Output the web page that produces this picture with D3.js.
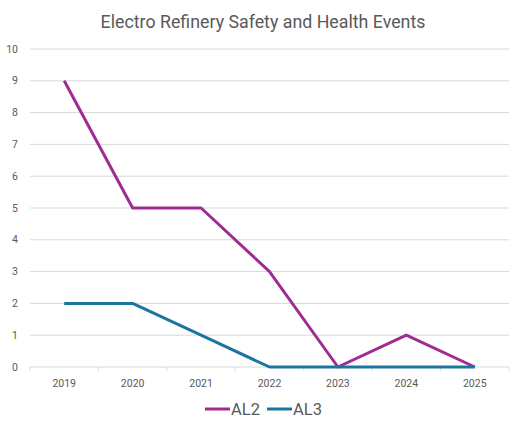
<!DOCTYPE html>
<html>
<head>
<meta charset="utf-8">
<script src="https://cdn.jsdelivr.net/npm/d3@7"></script>
<style>
  body { margin: 0; background: #fff; }
  text { font-family: Roboto, "Liberation Sans", sans-serif; }
</style>
</head>
<body>
<div id="chart"></div>
<script>
const years = ['2019', '2020', '2021', '2022', '2023', '2024', '2025'];
const al2 = [9, 5, 5, 3, 0, 1, 0];
const al3 = [2, 2, 1, 0, 0, 0, 0];
const yTicks = [0, 1, 2, 3, 4, 5, 6, 7, 8, 9, 10];

const series = [
    {name: 'AL2', values: al2, color: '#A02B93'},
    {name: 'AL3', values: al3, color: '#1A76A0'}
];

const W = 526, H = 432;
const margin = {top: 49, right: 17, bottom: 65, left: 30};
const width = W - margin.left - margin.right,
      height = H - margin.top - margin.bottom;

const svg = d3.select('#chart').append('svg')
      .attr('width', W)
      .attr('height', H);

svg.append('text')
    .attr('x', W / 2)
    .attr('y', 28)
    .attr('text-anchor', 'middle')
    .attr('font-size', 17.8)
    .attr('fill', '#595959')
    .text('Electro Refinery Safety and Health Events');

const g = svg.append('g')
      .attr('transform', 'translate(' + margin.left + ',' + margin.top + ')');

const x = d3.scaleBand().domain(years).range([0, width]);
const y = d3.scaleLinear().domain([0, 10]).range([height, 0]);

// gridlines
g.selectAll('.grid').data(yTicks).enter()
    .append('line')
    .attr('class', 'grid')
    .attr('x1', 0)
    .attr('x2', width)
    .attr('y1', d => y(d))
    .attr('y2', d => y(d))
    .attr('stroke', '#d9d9d9')
    .attr('stroke-width', 1);

// y labels
g.selectAll('.ylab').data(yTicks).enter()
    .append('text')
    .attr('class', 'ylab')
    .attr('x', -12)
    .attr('y', d => y(d))
    .attr('dy', '0.35em')
    .attr('text-anchor', 'end')
    .attr('font-size', 10.5)
    .attr('fill', '#595959')
    .text(d => d);

// x axis ticks at band edges
const edges = years.map(d => x(d)).concat([width]);
g.selectAll('.xtick').data(edges).enter()
    .append('line')
    .attr('x1', d => d)
    .attr('x2', d => d)
    .attr('y1', height)
    .attr('y2', height + 4)
    .attr('stroke', '#d9d9d9');

g.selectAll('.xlab').data(years).enter()
    .append('text')
    .attr('x', d => x(d) + x.bandwidth() / 2)
    .attr('y', height + 20)
    .attr('text-anchor', 'middle')
    .attr('font-size', 10.5)
    .attr('fill', '#595959')
    .text(d => d);

const line = d3.line()
      .x((d, i) => x(years[i]) + x.bandwidth() / 2)
      .y(d => y(d));

series.forEach(s => {
    g.append('path')
        .datum(s.values)
        .attr('fill', 'none')
        .attr('stroke', s.color)
        .attr('stroke-width', 3)
        .attr('stroke-linejoin', 'round')
        .attr('d', line);
});

// legend
const legend = svg.append('g').attr('transform', 'translate(205,409)');
series.forEach((s, i) => {
    const lg = legend.append('g').attr('transform', 'translate(' + (i * 62) + ',0)');
    lg.append('line')
        .attr('x1', 0).attr('x2', 25)
        .attr('y1', 0).attr('y2', 0)
        .attr('stroke', s.color)
        .attr('stroke-width', 3);
    lg.append('text')
        .attr('x', 26)
        .attr('y', 0)
        .attr('dy', '0.36em')
        .attr('font-size', 16.5)
        .attr('fill', '#595959')
        .text(s.name);
});
</script>
</body>
</html>
